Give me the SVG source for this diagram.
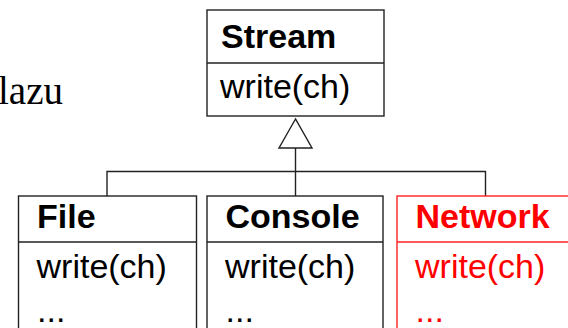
<svg xmlns="http://www.w3.org/2000/svg" width="568" height="328" viewBox="0 0 568 328">
  <style>
    .box { fill: #fff; stroke: #222; stroke-width: 1.4; }
    .sep { stroke: #222; stroke-width: 1.4; }
    .red .box, .red .sep { stroke: #ff2020; }
    .title { font-family: "Liberation Sans", Arial, sans-serif; font-size: 34px; font-weight: bold; fill: #000; }
    .op { font-family: "Liberation Sans", Arial, sans-serif; font-size: 34px; fill: #000; }
    .red text { fill: #ff0000; }
    .wire { fill: none; stroke: #222; stroke-width: 1.4; }
    .side { font-family: "Liberation Serif", "Times New Roman", serif; font-size: 39px; fill: #000; }
  </style>

  <!-- fragment of surrounding paragraph text -->
  <text class="side" x="-2" y="104">lazu</text>

  <!-- inheritance connectors -->
  <g id="connectors">
    <polyline class="wire" points="107,196 107,171.5 485.5,171.5 485.5,196"/>
    <line class="wire" x1="295.5" y1="148" x2="295.5" y2="196"/>
    <polygon class="wire" points="295.5,119 279,148 312,148" fill="#fff"/>
  </g>

  <!-- base class -->
  <g id="stream">
    <rect class="box" x="207" y="10" width="177" height="106"/>
    <line class="sep" x1="207" y1="63" x2="384" y2="63"/>
    <text class="title" x="221" y="48">Stream</text>
    <text class="op" x="220" y="98">write(ch)</text>
  </g>

  <!-- subclasses -->
  <g id="file">
    <rect class="box" x="18.5" y="196" width="178" height="150"/>
    <line class="sep" x1="18.5" y1="242" x2="196.5" y2="242"/>
    <text class="title" x="37" y="228">File</text>
    <text class="op" x="36.5" y="278">write(ch)</text>
    <text class="op" x="37" y="322">...</text>
  </g>

  <g id="console">
    <rect class="box" x="207" y="196" width="176" height="150"/>
    <line class="sep" x1="207" y1="242" x2="383" y2="242"/>
    <text class="title" x="225.5" y="228">Console</text>
    <text class="op" x="225" y="278">write(ch)</text>
    <text class="op" x="225.5" y="322">...</text>
  </g>

  <g id="network" class="red">
    <rect class="box" x="397" y="196" width="180" height="150"/>
    <line class="sep" x1="397" y1="242" x2="577" y2="242"/>
    <text class="title" x="415.5" y="228">Network</text>
    <text class="op" x="415" y="278">write(ch)</text>
    <text class="op" x="415.5" y="322">...</text>
  </g>
</svg>
